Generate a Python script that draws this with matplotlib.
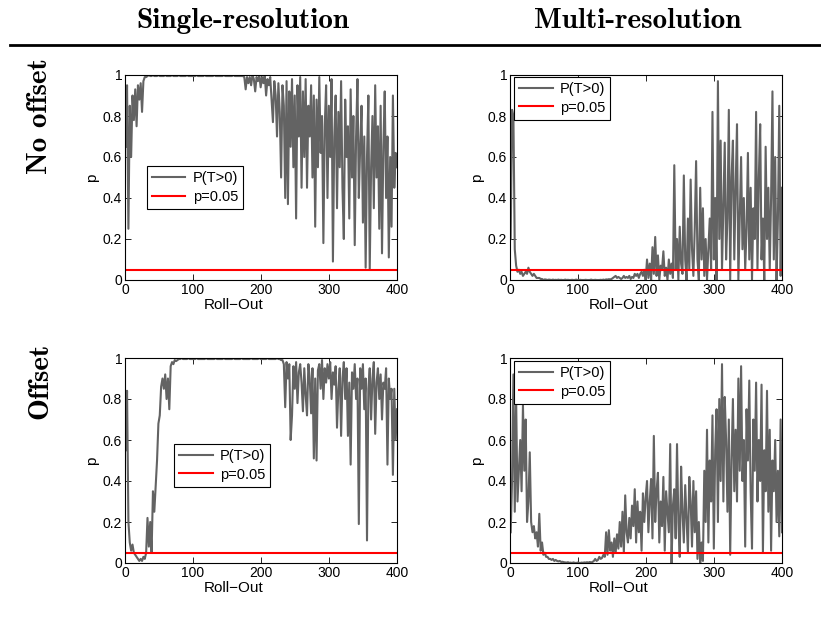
"""Permutation-test p-values over roll-outs, 2x2 grid (single vs multi-resolution)."""

import numpy as np
import matplotlib

matplotlib.use("Agg")
import matplotlib.pyplot as plt

col_titles = ["Single-resolution", "Multi-resolution"]
row_titles = ["No offset", "Offset"]
threshold = 0.05
x_ticks = [0, 100, 200, 300, 400]
y_ticks = [0, 0.2, 0.4, 0.6, 0.8, 1]
y_tick_labels = ["0", "0.2", "0.4", "0.6", "0.8", "1"]

# single-resolution, no offset (sampled every 2 roll-outs)
single_no_offset = [
    0.65, 0.95, 0.25, 0.85, 0.6, 0.9, 0.78, 0.93, 0.75, 0.95, 0.88,
    0.96, 0.82, 0.97, 0.99,
    0.99, 0.995, 1.0, 0.995, 0.995, 1.0, 0.995, 0.995, 0.995, 1.0, 0.995, 0.995,
    0.995, 0.995, 1.0, 0.995, 0.995, 0.995, 0.995, 1.0, 0.995, 0.995, 0.995, 0.995,
    1.0, 0.995, 0.995, 0.995, 0.995, 0.995, 1.0, 0.995, 0.995, 0.995, 0.995, 0.995,
    0.995, 1.0, 0.995, 0.995, 0.995, 0.995, 0.995, 1.0, 0.995, 0.995, 0.995, 0.995,
    0.995, 0.995, 1.0, 0.995, 0.995, 0.995, 0.995, 0.995, 0.995, 1.0, 0.995, 0.995,
    0.995, 0.995, 0.995, 0.995, 1.0, 0.995, 0.995, 0.995, 0.995, 0.995, 0.995, 0.995,
    0.99, 0.93, 0.99, 0.96, 0.99, 0.95, 1.0, 0.98, 0.92, 0.99, 0.97, 1.0, 0.94,
    0.99, 0.96, 1.0, 0.9, 0.98, 0.95, 0.99, 0.88,
    0.77, 0.97, 0.9, 0.7, 0.96, 0.82, 0.5, 0.95, 0.85, 0.4, 0.97, 0.37, 0.92,
    0.65, 0.98, 0.55, 0.9, 0.3, 0.95, 0.7, 0.99, 0.45,
    0.92, 0.6, 0.98, 0.45, 0.85, 0.7, 0.95, 0.5, 0.9, 0.26, 0.88, 0.55, 0.99,
    0.62, 0.8, 0.18, 0.75, 0.95, 0.4, 0.85, 0.6, 0.98, 0.09, 0.7, 0.9, 0.35,
    0.82, 0.55, 0.97, 0.45, 0.2, 0.88, 0.6, 0.75, 0.3, 0.93, 0.5, 0.8, 0.17,
    0.7, 0.98, 0.4, 0.65, 0.85, 0.28, 0.7, 0.06, 0.6, 0.9, 0.05, 0.55, 0.8,
    0.35, 0.95, 0.5, 0.75, 0.25, 0.85, 0.13, 0.65, 0.92, 0.4, 0.7, 0.11, 0.6,
    0.26, 0.9, 0.45, 0.62, 0.55,
]

# multi-resolution, no offset
multi_no_offset = [
    0.2, 0.83, 0.8, 0.15, 0.07,
    0.04, 0.05, 0.03, 0.04, 0.02, 0.03, 0.04, 0.03, 0.06, 0.04,
    0.03, 0.02, 0.03, 0.02, 0.01, 0.01, 0.01, 0.005, 0.005, 0.0,
    0.003, 0.002, 0.0, 0.002, 0.001, 0.0, 0.002, 0.0, 0.001, 0.0,
    0.002, 0.0, 0.001, 0.0, 0.0, 0.002, 0.0, 0.001, 0.0, 0.0,
    0.001, 0.0, 0.0, 0.002, 0.0, 0.0, 0.001, 0.0, 0.0, 0.0,
    0.001, 0.0, 0.0, 0.0, 0.002, 0.0, 0.0, 0.001, 0.0, 0.0,
    0.0, 0.001, 0.0, 0.002, 0.0, 0.003, 0.002, 0.004, 0.003, 0.005,
    0.01, 0.015, 0.02, 0.01, 0.015, 0.01, 0.005, 0.01, 0.02, 0.01,
    0.015, 0.01, 0.02, 0.005, 0.015, 0.01, 0.03, 0.02, 0.03, 0.01,
    0.03, 0.04, 0.02, 0.05, 0.0,
    0.1, 0.01, 0.08, 0.0, 0.16, 0.03, 0.21, 0.02, 0.12, 0.0,
    0.07, 0.05, 0.14, 0.02, 0.06, 0.0, 0.1, 0.03, 0.08, 0.01,
    0.56, 0.05, 0.2, 0.0, 0.26, 0.08, 0.03, 0.51, 0.1, 0.0,
    0.3, 0.05, 0.49, 0.15, 0.02, 0.25, 0.58, 0.1, 0.0, 0.45,
    0.1, 0.35, 0.02, 0.2, 0.0, 0.15, 0.3, 0.05, 0.82, 0.1,
    0.4, 0.0, 0.97, 0.2, 0.68, 0.05, 0.35, 0.67, 0.1, 0.3,
    0.83, 0.0, 0.5, 0.68, 0.1, 0.45, 0.76, 0.0, 0.3, 0.6,
    0.15, 0.4, 0.05, 0.25, 0.62, 0.1, 0.45, 0.0, 0.35, 0.2,
    0.82, 0.05, 0.5, 0.76, 0.1, 0.3, 0.0, 0.65, 0.2, 0.45,
    0.05, 0.4, 0.92, 0.1, 0.6, 0.0, 0.3, 0.85, 0.02, 0.45,
]

# single-resolution, offset
single_offset = [
    0.55, 0.84, 0.2, 0.1, 0.06,
    0.09, 0.05, 0.04, 0.03, 0.02, 0.01, 0.02, 0.01, 0.03, 0.02,
    0.05, 0.22, 0.08, 0.2, 0.05, 0.35, 0.25, 0.38, 0.5, 0.68,
    0.72, 0.86, 0.9, 0.85, 0.92, 0.8, 0.9, 0.75, 0.96, 0.98,
    0.97, 0.99, 0.985, 0.99, 0.995,
    0.995, 1.0, 0.995, 0.995, 0.995, 0.995, 1.0, 0.995, 0.995, 0.995, 0.995, 0.995,
    1.0, 0.995, 0.995, 0.995, 0.995, 0.995, 0.995, 1.0, 0.995, 0.995, 0.995, 0.995,
    0.995, 0.995, 1.0, 0.995, 0.995, 0.995, 0.995, 0.995, 1.0, 0.995, 0.995, 0.995,
    0.995, 0.995, 0.995, 1.0, 0.995, 0.995, 0.995, 0.995, 0.995, 1.0, 0.995, 0.995,
    0.995, 0.995, 0.995, 0.995, 1.0, 0.995, 0.995, 0.995, 0.995, 0.995, 1.0, 0.995,
    0.995, 0.995, 0.995, 0.995, 1.0, 0.995, 0.995, 0.995, 0.995, 0.995, 0.995, 1.0,
    0.995, 0.995, 0.99,
    0.99, 0.97, 0.76, 0.98, 0.9, 0.97, 0.6, 0.72, 0.96, 0.85, 0.98, 0.78, 0.93, 0.97, 0.88,
    0.74, 0.95, 0.82, 0.72, 0.97, 0.9, 0.73, 0.95, 0.51, 0.9,
    0.5, 0.94, 0.97, 0.85, 0.99, 0.8, 0.95, 0.88, 0.97, 0.9,
    0.98, 0.8, 0.93, 0.87, 0.96, 0.66, 0.85, 0.95, 0.62, 0.9,
    0.98, 0.8, 0.95, 0.62, 0.88, 0.48, 0.93, 0.85, 0.97, 0.8,
    0.9, 0.19, 0.95, 0.85, 0.97, 0.75, 0.9, 0.11, 0.85, 0.95, 0.7, 0.9, 0.98, 0.63, 0.88,
    0.95, 0.8, 0.92, 0.7, 0.88, 0.85, 0.95, 0.48, 0.9, 0.8, 0.85, 0.43, 0.85, 0.6, 0.75,
]

# multi-resolution, offset
multi_offset = [
    0.15, 0.4, 0.92, 0.25, 0.8, 0.3, 0.45, 0.6, 0.35, 0.77,
    0.45, 0.7, 0.2, 0.3, 0.54, 0.2, 0.15, 0.18, 0.12, 0.15,
    0.08, 0.24, 0.06, 0.1, 0.04, 0.05, 0.03, 0.03, 0.02, 0.02,
    0.015, 0.02, 0.01, 0.015, 0.01, 0.008, 0.01, 0.005, 0.006, 0.004,
    0.003, 0.002, 0.004, 0.001, 0.002, 0.0, 0.003, 0.001, 0.0, 0.002,
    0.001, 0.0, 0.002, 0.001, 0.003, 0.002, 0.004, 0.002, 0.005, 0.003,
    0.005, 0.01, 0.02, 0.01, 0.015, 0.03, 0.02, 0.025, 0.04, 0.03,
    0.15, 0.04, 0.16, 0.06, 0.1, 0.03, 0.12, 0.05, 0.14, 0.07,
    0.2, 0.08, 0.25, 0.05, 0.33, 0.15, 0.1, 0.22, 0.12, 0.28,
    0.18, 0.36, 0.1, 0.3, 0.15, 0.25, 0.06, 0.34, 0.2, 0.32,
    0.4, 0.15, 0.3, 0.41, 0.12, 0.62, 0.2, 0.35, 0.44, 0.1,
    0.3, 0.18, 0.42, 0.06, 0.35, 0.25, 0.15, 0.58, 0.0, 0.28,
    0.36, 0.12, 0.58, 0.2, 0.03, 0.47, 0.25, 0.1, 0.38, 0.22,
    0.05, 0.42, 0.3, 0.08, 0.4, 0.15, 0.35, 0.02, 0.2, 0.0,
    0.1, 0.01, 0.45, 0.2, 0.65, 0.1, 0.5, 0.3, 0.72, 0.07,
    0.55, 0.75, 0.2, 0.8, 0.4, 0.97, 0.3, 0.81, 0.6, 0.25,
    0.7, 0.04, 0.5, 0.8, 0.35, 0.65, 0.3, 0.9, 0.45, 0.96,
    0.4, 0.6, 0.08, 0.75, 0.5, 0.89, 0.35, 0.07, 0.7, 0.45,
    0.88, 0.3, 0.6, 0.4, 0.87, 0.05, 0.55, 0.35, 0.84, 0.25,
    0.65, 0.06, 0.5, 0.35, 0.6, 0.2, 0.45, 0.13, 0.7, 0.15,
]

panels = [
    [single_no_offset, multi_no_offset],
    [single_offset, multi_offset],
]
# upper-left corner of each legend, in axes coords
legend_anchor = [
    [(0.08, 0.555), (0.015, 0.99)],
    [(0.18, 0.58), (0.015, 0.985)],
]

plt.rcParams["font.family"] = ["Liberation Sans", "DejaVu Sans"]

fig = plt.figure(figsize=(8.21, 6.18), dpi=100)
W, H = 821, 618
lefts = [125, 510]
bottoms = [280, 563]
aw, ah = 272, 205

for r in range(2):
    for c in range(2):
        ax = fig.add_axes([lefts[c] / W, (H - bottoms[r]) / H, aw / W, ah / H])
        p = panels[r][c]
        rollout = np.linspace(1, 400, len(p))
        ax.plot(rollout, p, color="#636363", lw=1.5, label="P(T>0)")
        ax.axhline(threshold, color="#ff0000", lw=1.5, label="p=0.05")
        ax.set_xlim(0, 400)
        ax.set_ylim(0, 1)
        ax.set_xticks(x_ticks)
        ax.set_yticks(y_ticks)
        ax.set_yticklabels(y_tick_labels)
        ax.tick_params(direction="in", length=4, width=0.6, top=True, right=True,
                       labelsize=10, pad=2, colors="black")
        for s in ax.spines.values():
            s.set_linewidth(0.8)
        ax.set_xlabel("Roll\u2212Out", fontsize=11)
        ax.xaxis.set_label_coords(0.40, -0.088)
        ax.set_ylabel("p", fontsize=11)
        ax.yaxis.set_label_coords(-0.095, 0.5)
        leg = ax.legend(loc="upper left", bbox_to_anchor=legend_anchor[r][c],
                        fontsize=10.5, fancybox=False, framealpha=1,
                        edgecolor="black", handlelength=2.3, borderpad=0.35,
                        labelspacing=0.3, handletextpad=0.5, borderaxespad=0)
        leg.get_frame().set_linewidth(0.8)

# column headers and rule
title_x = [243, 638]
for c, t in enumerate(col_titles):
    fig.text(title_x[c] / W, 1 - 21 / H, t, ha="center", va="center",
             family="cmb10", fontsize=21)
fig.add_artist(plt.Line2D([10 / W, 1.0], [1 - 45 / H, 1 - 45 / H], color="black", lw=2))

# row labels
row_y = [116, 381]
for r, t in enumerate(row_titles):
    fig.text(40 / W, 1 - row_y[r] / H, t, rotation=90, ha="center", va="center",
             family="cmb10", fontsize=21)

fig.savefig("out.png", dpi=100)
